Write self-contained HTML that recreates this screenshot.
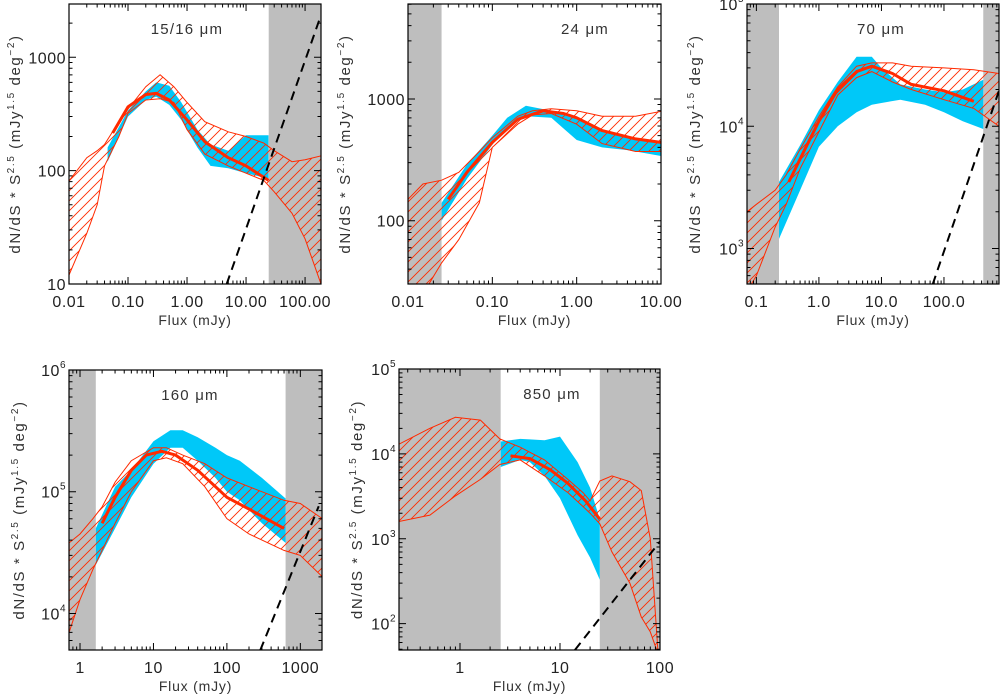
<!DOCTYPE html>
<html><head><meta charset="utf-8"><style>
html,body{margin:0;padding:0;background:#fff;}
svg{display:block;font-family:"Liberation Sans",sans-serif;}
</style></head><body>
<svg id="fig" width="1000" height="694" viewBox="0 0 1000 694" xmlns="http://www.w3.org/2000/svg">
<defs>
<pattern id="hatch" patternUnits="userSpaceOnUse" width="10" height="10">
<path d="M-1,1 L1,-1 M0,10 L10,0 M9,11 L11,9" stroke="#ff2a00" stroke-width="0.9"/>
</pattern>
</defs>
</svg>
<script>
// ---- Panel 1: 15/16 um ----
const p1Grey = [[-2, 0.041], [24.2, 1000]];
const p1BlueX  = [0.045, 0.1, 0.2, 0.3, 0.5, 0.8, 1.5, 2.5, 5, 10, 24];
const p1BlueLo = [120, 300, 420, 450, 380, 280, 160, 110, 105, 95, 85];
const p1BlueHi = [160, 340, 500, 600, 560, 400, 230, 170, 150, 205, 205];
const p1BandX  = [0.01, 0.02, 0.03, 0.04, 0.07, 0.1, 0.2, 0.35, 0.6, 1, 2, 5, 10, 20, 30, 60, 100, 186];
const p1BandHi = [81, 130, 150, 170, 270, 350, 550, 700, 550, 400, 270, 220, 200, 175, 150, 120, 125, 135];
const p1BandLo = [12, 28, 50, 110, 200, 320, 420, 430, 400, 230, 140, 110, 95, 82, 65, 42, 25, 10];
const p1LineX = [0.055, 0.1, 0.2, 0.3, 0.5, 1, 2, 5, 10, 24];
const p1LineY = [215, 365, 470, 480, 420, 280, 180, 130, 110, 82];
const p1Dash = [[4.7, 10], [186, 2350]];

// ---- Panel 2: 24 um ----
const p2Grey = [[0.001, 0.025]];
const p2BlueX  = [0.025, 0.05, 0.1, 0.15, 0.25, 0.5, 1, 2, 4, 10];
const p2BlueLo = [100, 220, 420, 580, 720, 700, 460, 400, 380, 340];
const p2BlueHi = [140, 290, 500, 700, 880, 800, 680, 560, 480, 430];
const p2BandX  = [0.01, 0.015, 0.025, 0.04, 0.07, 0.1, 0.2, 0.3, 0.5, 1, 2, 5, 10];
const p2BandHi = [150, 200, 215, 250, 370, 480, 720, 800, 830, 800, 720, 720, 790];
const p2BandLo = [22, 25, 45, 70, 140, 400, 620, 740, 760, 620, 430, 370, 370];
const p2LineX = [0.03, 0.05, 0.1, 0.2, 0.4, 0.7, 1, 2, 5, 10];
const p2LineY = [150, 250, 440, 680, 800, 760, 700, 550, 470, 440];
const p2Dash = [];

// ---- Panel 3: 70 um ----
const p3Grey = [[0.01, 0.23], [425, 10000]];
const p3BlueX  = [0.23, 0.5, 1, 2, 4, 7, 10, 20, 50, 100, 200, 425];
const p3BlueLo = [1200, 3000, 6800, 10000, 13000, 15000, 15500, 16500, 15000, 13000, 11000, 9500];
const p3BlueHi = [3500, 7000, 13500, 23000, 37000, 37000, 30000, 22000, 20000, 19000, 20000, 24000];
const p3BandX  = [0.071, 0.1, 0.2, 0.3, 0.5, 1, 2, 4, 7, 15, 30, 100, 300, 760];
const p3BandHi = [2000, 2300, 3000, 4000, 6500, 12000, 21000, 31000, 33000, 33000, 31000, 30000, 29000, 27000];
const p3BandLo = [450, 600, 1500, 2300, 4500, 9000, 18000, 25000, 28000, 23000, 20000, 16500, 14000, 10000];
const p3LineX = [0.33, 0.6, 1, 2, 4, 7, 15, 30, 100, 300];
const p3LineY = [3500, 6500, 11000, 20000, 28000, 31000, 27000, 22000, 19500, 16000];
const p3Dash = [[66, 510], [760, 19600]];

// ---- Panel 4: 160 um ----
const p4Grey = [[0.1, 1.64], [630, 100000]];
const p4BlueX  = [1.64, 3, 5, 10, 17, 25, 40, 70, 100, 150, 300, 630];
const p4BlueLo = [25000, 50000, 90000, 170000, 230000, 230000, 180000, 130000, 100000, 85000, 55000, 38000];
const p4BlueHi = [50000, 110000, 150000, 260000, 320000, 320000, 280000, 230000, 200000, 180000, 130000, 88000];
const p4BandX  = [0.71, 1, 1.5, 2, 3, 5, 10, 15, 25, 50, 100, 200, 600, 1000, 2000];
const p4BandHi = [38000, 45000, 60000, 75000, 120000, 180000, 230000, 230000, 200000, 170000, 130000, 110000, 85000, 80000, 60000];
const p4BandLo = [7000, 13000, 23000, 33000, 55000, 100000, 180000, 190000, 170000, 110000, 60000, 45000, 33000, 30000, 20000];
const p4LineX = [2, 3, 5, 8, 13, 20, 40, 70, 100, 200, 600];
const p4LineY = [55000, 90000, 150000, 200000, 215000, 200000, 150000, 110000, 90000, 72000, 50000];
const p4Dash = [[285, 5000], [1780, 76000]];

// ---- Panel 5: 850 um ----
const p5Grey = [[0.01, 2.55], [25, 1000]];
const p5BlueX  = [2.55, 4, 5, 7, 10, 15, 20, 25];
const p5BlueLo = [7000, 8500, 8000, 5500, 3000, 1100, 600, 330];
const p5BlueHi = [14000, 15000, 14800, 14500, 16000, 8000, 4000, 1700];
const p5BandX  = [0.245, 0.5, 0.9, 1.6, 2.5, 4, 7, 12, 17, 20, 25, 33, 50, 65, 80, 95];
const p5BandHi = [13000, 20000, 27000, 25000, 15000, 12000, 8500, 5000, 3500, 2800, 4800, 5500, 4700, 3700, 1000, 50];
const p5BandLo = [1600, 1900, 3200, 5000, 7500, 8500, 5500, 3500, 2400, 2000, 1500, 700, 300, 120, 80, 45];
const p5LineX = [3.2, 5, 8, 12, 18, 25];
const p5LineY = [9500, 8800, 6500, 4500, 2800, 1700];
const p5Dash = [[14.1, 49], [100, 930]];

const NS = "http://www.w3.org/2000/svg";
const svg = document.getElementById("fig");
function mk(tag, attrs, parent) {
  const e = document.createElementNS(NS, tag);
  for (const k in attrs) e.setAttribute(k, attrs[k]);
  (parent || svg).appendChild(e);
  return e;
}
let clipN = 0;
function panel(c) {
  const g = mk("g", {});
  
  
  const sx = v => c.x0 + (Math.log10(v) - c.lx0) / (c.lx1 - c.lx0) * (c.x1 - c.x0);
  const sy = v => c.y1 - (Math.log10(v) - c.ly0) / (c.ly1 - c.ly0) * (c.y1 - c.y0);
  const id = "clip" + (clipN++);
  const cp = mk("clipPath", { id: id }, g);
  mk("rect", { x: c.x0, y: c.y0, width: c.x1 - c.x0, height: c.y1 - c.y0 }, cp);
  const plot = mk("g", { "clip-path": "url(#" + id + ")" }, g);
  
  
  c.grey.forEach(r => {
    const a = Math.max(sx(r[0]), c.x0 - 5), b = Math.min(sx(r[1]), c.x1 + 5);
    const el = mk("rect", { x: a, y: c.y0, width: b - a, height: c.y1 - c.y0, fill: "#bebebe" }, plot);
    
    
  });
  function bandPath(X, Lo, Hi) {
    let d = "";
    X.forEach((x, i) => { d += (i ? "L" : "M") + sx(x).toFixed(1) + "," + sy(Hi[i]).toFixed(1); });
    for (let i = X.length - 1; i >= 0; i--) d += "L" + sx(X[i]).toFixed(1) + "," + sy(Lo[i]).toFixed(1);
    return d + "Z";
  }
  const blue = mk("path", { d: bandPath(c.bx, c.blo, c.bhi), fill: "#00c8f8" }, plot);
  
  
  const hatch = mk("path", { d: bandPath(c.hx, c.hlo, c.hhi), fill: "url(#hatch)", stroke: "#ff2a00", "stroke-width": 1 }, plot);
  
  
  let d = "";
  c.lx.forEach((x, i) => { d += (i ? "L" : "M") + sx(x).toFixed(1) + "," + sy(c.ly[i]).toFixed(1); });
  const line = mk("path", { d: d, fill: "none", stroke: "#ff2a00", "stroke-width": 3, "stroke-linejoin": "round" }, plot);
  
  
  if (c.dash.length) {
    const dl = mk("line", { x1: sx(c.dash[0][0]), y1: sy(c.dash[0][1]), x2: sx(c.dash[1][0]), y2: sy(c.dash[1][1]), stroke: "#000", "stroke-width": 2, "stroke-dasharray": "9,6" }, plot);
    
    
  }
  let td = "";
  for (let e = Math.floor(c.lx0); e <= Math.ceil(c.lx1); e++) for (let m = 1; m < 10; m++) {
    const lv = e + Math.log10(m); if (lv < c.lx0 - 1e-6 || lv > c.lx1 + 1e-6) continue;
    const x = sx(Math.pow(10, lv)), L = m === 1 ? 7 : 3.5;
    td += "M" + x + "," + c.y1 + "v" + (-L) + "M" + x + "," + c.y0 + "v" + L;
  }
  for (let e = Math.floor(c.ly0); e <= Math.ceil(c.ly1); e++) for (let m = 1; m < 10; m++) {
    const lv = e + Math.log10(m); if (lv < c.ly0 - 1e-6 || lv > c.ly1 + 1e-6) continue;
    const y = sy(Math.pow(10, lv)), L = m === 1 ? 7 : 3.5;
    td += "M" + c.x0 + "," + y + "h" + L + "M" + c.x1 + "," + y + "h" + (-L);
  }
  const ticks = mk("path", { d: td, stroke: "#000", "stroke-width": 1, fill: "none" }, g);
  
  
  const fr = mk("rect", { x: c.x0, y: c.y0, width: c.x1 - c.x0, height: c.y1 - c.y0, fill: "none", stroke: "#000", "stroke-width": 1.2 }, g);
  
  
  c.xt.forEach((v, i) => {
    const t = mk("text", { x: sx(v), y: c.y1 + 23, "text-anchor": "middle", "font-size": 16, "letter-spacing": 0.5, fill: "#222" }, g);
    t.textContent = c.xtl[i];
    
    
  });
  c.yt.forEach((v, i) => {
    const t = mk("text", { x: c.x0 - 3, y: sy(v) + 6, "text-anchor": "end", "font-size": 16, "letter-spacing": 0.5, fill: "#222" }, g);
    
    
    if (c.ysup) {
      t.textContent = "10";
      const s = mk("tspan", { dy: -8, "font-size": 10 }, t); s.textContent = c.ytl[i];
    } else t.textContent = c.ytl[i];
  });
  const xl = mk("text", { x: (c.x0 + c.x1) / 2, y: c.y1 + 41, "text-anchor": "middle", "font-size": 14, "letter-spacing": 0.8, fill: "#333" }, g);
  xl.textContent = "Flux (mJy)";
  
  
  const cy = (c.y0 + c.y1) / 2;
  const yl = mk("text", { x: 0, y: 0, "text-anchor": "middle", "font-size": 15, "letter-spacing": 1.6, fill: "#333", transform: "translate(" + c.ylx + "," + cy + ") rotate(-90)" }, g);
  
  
  const parts = [["dN/dS * S", 0], ["2.5", 1], [" (mJy", 0], ["1.5", 1], [" deg", 0], ["\u22122", 1], [")", 0]];
  let up = false;
  parts.forEach(p => {
    const ts = mk("tspan", {}, yl);
    if (p[1] && !up) { ts.setAttribute("dy", -6); ts.setAttribute("font-size", 10); up = true; }
    else if (!p[1] && up) { ts.setAttribute("dy", 6); up = false; }
    else if (p[1]) ts.setAttribute("font-size", 10);
    ts.textContent = p[0];
  });
  const ti = mk("text", { x: c.tx, y: c.y0 + 30, "text-anchor": "middle", "font-size": 15, "letter-spacing": 1.2, fill: "#333" }, g);
  ti.textContent = c.title;
  
  
}

panel({ name: "panel-15um", x0: 69, x1: 321, y0: 4, y1: 284, lx0: -2, lx1: 2.27, ly0: 1.0, ly1: 3.47,
  grey: p1Grey, bx: p1BlueX, blo: p1BlueLo, bhi: p1BlueHi, hx: p1BandX, hlo: p1BandLo, hhi: p1BandHi, lx: p1LineX, ly: p1LineY, dash: p1Dash,
  xt: [0.01, 0.1, 1, 10, 100], xtl: ["0.01", "0.10", "1.00", "10.00", "100.00"], yt: [10, 100, 1000], ytl: ["10", "100", "1000"], ysup: false,
  ylx: 20, tx: 187, title: "15/16 \u03bcm" });
panel({ name: "panel-24um", x0: 408, x1: 661, y0: 4, y1: 284, lx0: -2, lx1: 1.0, ly0: 1.48, ly1: 3.78,
  grey: p2Grey, bx: p2BlueX, blo: p2BlueLo, bhi: p2BlueHi, hx: p2BandX, hlo: p2BandLo, hhi: p2BandHi, lx: p2LineX, ly: p2LineY, dash: p2Dash,
  xt: [0.01, 0.1, 1, 10], xtl: ["0.01", "0.10", "1.00", "10.00"], yt: [100, 1000], ytl: ["100", "1000"], ysup: false,
  ylx: 350, tx: 585, title: "24 \u03bcm" });
panel({ name: "panel-70um", x0: 747, x1: 999, y0: 4, y1: 284, lx0: -1.15, lx1: 2.88, ly0: 2.71, ly1: 5.0,
  grey: p3Grey, bx: p3BlueX, blo: p3BlueLo, bhi: p3BlueHi, hx: p3BandX, hlo: p3BandLo, hhi: p3BandHi, lx: p3LineX, ly: p3LineY, dash: p3Dash,
  xt: [0.1, 1, 10, 100], xtl: ["0.1", "1.0", "10.0", "100.0"], yt: [1000, 10000, 100000], ytl: ["3", "4", "5"], ysup: true,
  ylx: 700, tx: 881, title: "70 \u03bcm" });
panel({ name: "panel-160um", x0: 69, x1: 322, y0: 370, y1: 650, lx0: -0.15, lx1: 3.295, ly0: 3.7, ly1: 6.0,
  grey: p4Grey, bx: p4BlueX, blo: p4BlueLo, bhi: p4BlueHi, hx: p4BandX, hlo: p4BandLo, hhi: p4BandHi, lx: p4LineX, ly: p4LineY, dash: p4Dash,
  xt: [1, 10, 100, 1000], xtl: ["1", "10", "100", "1000"], yt: [10000, 100000, 1000000], ytl: ["4", "5", "6"], ysup: true,
  ylx: 24, tx: 190, title: "160 \u03bcm" });
panel({ name: "panel-850um", x0: 399, x1: 660, y0: 369, y1: 650, lx0: -0.61, lx1: 2.0, ly0: 1.69, ly1: 5.0,
  grey: p5Grey, bx: p5BlueX, blo: p5BlueLo, bhi: p5BlueHi, hx: p5BandX, hlo: p5BandLo, hhi: p5BandHi, lx: p5LineX, ly: p5LineY, dash: p5Dash,
  xt: [1, 10, 100], xtl: ["1", "10", "100"], yt: [100, 1000, 10000, 100000], ytl: ["2", "3", "4", "5"], ysup: true,
  ylx: 362, tx: 552, title: "850 \u03bcm" });
</script>
</body></html>
